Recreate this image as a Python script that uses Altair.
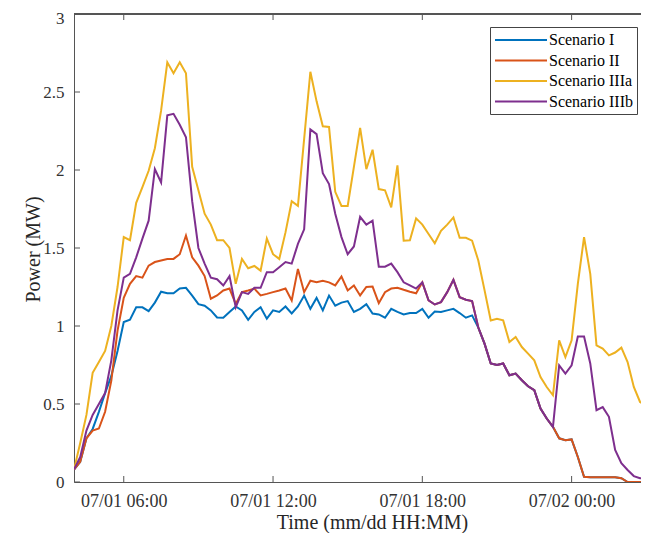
import altair as alt
import pandas as pd

# ---- data (15-minute resolution from 07/01 04:00) ----
series_names = ["Scenario I", "Scenario II", "Scenario IIIa", "Scenario IIIb"]
series_colors = ["#0072BD", "#D95319", "#EDB120", "#7E2F8E"]

scenario_1 = [
    0.08, 0.13, 0.28, 0.34, 0.45, 0.57, 0.68, 0.84, 1.025, 1.04,
    1.12, 1.12, 1.095, 1.15, 1.22, 1.21, 1.21, 1.24, 1.245, 1.195,
    1.14, 1.13, 1.10, 1.055, 1.053, 1.09, 1.125, 1.10, 1.04, 1.09,
    1.12, 1.047, 1.10, 1.09, 1.125, 1.08, 1.125, 1.195, 1.11, 1.18,
    1.10, 1.195, 1.13, 1.15, 1.16, 1.09, 1.11, 1.14, 1.08, 1.074,
    1.053, 1.11, 1.09, 1.074, 1.083, 1.083, 1.11, 1.053, 1.093, 1.09,
    1.10, 1.11, 1.083, 1.053, 1.068, 0.99, 0.887, 0.76, 0.75, 0.76,
    0.684, 0.695, 0.652, 0.614, 0.588, 0.471, 0.407, 0.354, 0.28, 0.268,
    0.273, 0.16, 0.034, 0.03, 0.03, 0.03, 0.03, 0.03, 0.024, 0.0,
    0.0, 0.0, 0.0, 0.0,
]
scenario_2 = [
    0.08, 0.13, 0.28, 0.33, 0.343, 0.45, 0.65, 0.97, 1.18, 1.27,
    1.32, 1.31, 1.387, 1.41, 1.42, 1.43, 1.43, 1.46, 1.58, 1.44,
    1.387, 1.32, 1.175, 1.196, 1.228, 1.24, 1.142, 1.217, 1.228, 1.24,
    1.196, 1.206, 1.217, 1.228, 1.24, 1.164, 1.366, 1.217, 1.29, 1.28,
    1.29, 1.28, 1.26, 1.317, 1.228, 1.26, 1.196, 1.25, 1.253, 1.146,
    1.217, 1.24, 1.245, 1.232, 1.22, 1.21, 1.28, 1.164, 1.138, 1.153,
    1.217, 1.296, 1.185, 1.168, 1.16, 0.99, 0.887, 0.76, 0.75, 0.76,
    0.684, 0.695, 0.652, 0.614, 0.588, 0.471, 0.407, 0.354, 0.28, 0.268,
    0.273, 0.16, 0.034, 0.03, 0.03, 0.03, 0.03, 0.03, 0.024, 0.0,
    0.0, 0.0, 0.0, 0.0,
]
scenario_3a = [
    0.08, 0.25, 0.43, 0.70, 0.77, 0.84, 1.0, 1.25, 1.57, 1.55,
    1.79, 1.89, 1.995, 2.14, 2.38, 2.69, 2.62, 2.69, 2.62, 2.02,
    1.87, 1.72, 1.65, 1.55, 1.55, 1.50, 1.27, 1.43, 1.37, 1.385,
    1.355, 1.56, 1.46, 1.43, 1.60, 1.80, 1.77, 2.20, 2.63, 2.44,
    2.28, 2.276, 1.86, 1.77, 1.77, 2.02, 2.27, 2.005, 2.13, 1.878,
    1.87, 1.76, 2.03, 1.547, 1.55, 1.69, 1.65, 1.59, 1.53, 1.61,
    1.65, 1.696, 1.565, 1.565, 1.547, 1.42, 1.23, 1.036, 1.047, 1.036,
    0.897, 0.929, 0.865, 0.823, 0.78, 0.673, 0.609, 0.556, 0.908, 0.80,
    0.908, 1.27, 1.57, 1.334, 0.876, 0.855, 0.812, 0.83, 0.861, 0.769,
    0.609, 0.513, 0.49, 0.48,
]
scenario_3b = [
    0.08, 0.16, 0.33, 0.43, 0.50, 0.57, 0.78, 1.10, 1.31, 1.334,
    1.44, 1.56, 1.675, 2.006, 1.92, 2.35, 2.36, 2.29, 2.21, 1.80,
    1.50, 1.40, 1.31, 1.30, 1.26, 1.32, 1.12, 1.217, 1.206, 1.245,
    1.245, 1.345, 1.345, 1.377, 1.41, 1.40, 1.526, 1.62, 2.26, 2.23,
    1.98, 1.91, 1.72, 1.57, 1.46, 1.51, 1.70, 1.65, 1.675, 1.38,
    1.38, 1.40, 1.345, 1.28, 1.26, 1.24, 1.28, 1.164, 1.138, 1.153,
    1.217, 1.296, 1.185, 1.168, 1.16, 0.99, 0.887, 0.76, 0.75, 0.76,
    0.684, 0.695, 0.652, 0.614, 0.588, 0.471, 0.407, 0.354, 0.748, 0.695,
    0.748, 0.933, 0.933, 0.76, 0.46, 0.48, 0.418, 0.205, 0.12, 0.077,
    0.038, 0.024, 0.02, 0.02,
]

start_time = "2023-07-01 04:00"
x_tick_times = ["2023-07-01T06:00:00", "2023-07-01T12:00:00",
                "2023-07-01T18:00:00", "2023-07-02T00:00:00"]
y_tick_values = [0, 0.5, 1, 1.5, 2, 2.5, 3]

rows = []
for name, vals in zip(series_names,
                      [scenario_1, scenario_2, scenario_3a, scenario_3b]):
    times = pd.date_range(start_time, periods=len(vals), freq="15min")
    for t, v in zip(times, vals):
        rows.append({"time": t.strftime("%Y-%m-%dT%H:%M:%S"),
                     "series": name, "power": v})
df = pd.DataFrame(rows)
xt_df = pd.DataFrame({"time": x_tick_times})
yt_df = pd.DataFrame({"power": y_tick_values})

# ---- styling ----
FONT = "Liberation Serif"
AX = "#555555"
W, H = 567, 468

x_scale = alt.Scale(domain=[
    alt.DateTime(year=2023, month=7, date=1, hours=4),
    alt.DateTime(year=2023, month=7, date=2, hours=2, minutes=47, seconds=20)])
y_scale = alt.Scale(domain=[0, 3], nice=False, zero=False)

x_axis = alt.Axis(
    values=[alt.DateTime(year=2023, month=7, date=1, hours=6),
            alt.DateTime(year=2023, month=7, date=1, hours=12),
            alt.DateTime(year=2023, month=7, date=1, hours=18),
            alt.DateTime(year=2023, month=7, date=2, hours=0)],
    format="%m/%d %H:%M", labelFont=FONT, labelFontSize=18,
    labelColor="#333333", labelPadding=10, ticks=False,
    domain=True, domainColor=AX, domainWidth=1,
    grid=False, labelFlush=False,
    title="Time (mm/dd HH:MM)", titleFont=FONT, titleFontSize=20,
    titleFontWeight="normal", titleColor="#262626",
    titleX=298, titleY=46, titleAlign="center", titleBaseline="alphabetic",
)
y_axis = alt.Axis(
    values=y_tick_values, labelExpr="'' + datum.value",
    labelFont=FONT, labelFontSize=17, labelColor="#333333",
    labelPadding=10, ticks=False, domain=True, domainColor=AX,
    domainWidth=1, grid=False,
    labelOffset={"condition": {"test": "datum.value === 3", "value": 4},
                 "value": 0},
    title="Power (MW)", titleFont=FONT, titleFontSize=20,
    titleFontWeight="normal", titleColor="#262626",
    titleAngle=270, titleX=-41, titleY=235, titleAlign="center",
    titleBaseline="middle",
)

x_enc = alt.X("time:T", scale=x_scale, axis=x_axis)
y_enc = alt.Y("power:Q", scale=y_scale, axis=y_axis)

lines = alt.Chart(df).mark_line(strokeWidth=2, clip=True).encode(
    x=x_enc,
    y=y_enc,
    color=alt.Color(
        "series:N",
        scale=alt.Scale(domain=series_names, range=series_colors),
        sort=series_names,
        legend=alt.Legend(
            orient="none", legendX=416, legendY=13, title=None,
            symbolType="M-1,0H5.5", symbolSize=256, symbolStrokeWidth=2,
            labelFont=FONT, labelFontSize=16, labelColor="black",
            fillColor="white", strokeColor="#444444", padding=4,
            rowPadding=3.5, labelOffset=37, labelLimit=300,
        ),
    ),
    order=alt.Order("time:T"),
    detail="series:N",
)

bottom_ticks = alt.Chart(xt_df).mark_rule(color=AX, strokeWidth=1).encode(
    x=x_enc, y=alt.value(H), y2=alt.value(H - 6))
top_ticks = alt.Chart(xt_df).mark_rule(color=AX, strokeWidth=1).encode(
    x=x_enc, y=alt.value(0), y2=alt.value(6))
left_ticks = alt.Chart(yt_df).mark_rule(color=AX, strokeWidth=1).encode(
    y=y_enc, x=alt.value(0), x2=alt.value(6))
top_border = alt.Chart(yt_df).mark_rule(color=AX, strokeWidth=1).encode(
    x=alt.value(0), x2=alt.value(W), y=alt.value(0))

chart = alt.layer(lines, bottom_ticks, top_ticks, left_ticks,
                  top_border).properties(
    width=W, height=H,
    autosize=alt.AutoSizeParams(type="none"),
    padding={"left": 66, "top": 6, "right": 0, "bottom": 51},
).configure(font=FONT).configure_view(strokeWidth=0)

chart.save("out.html", embed_options={"renderer": "svg", "actions": False})
